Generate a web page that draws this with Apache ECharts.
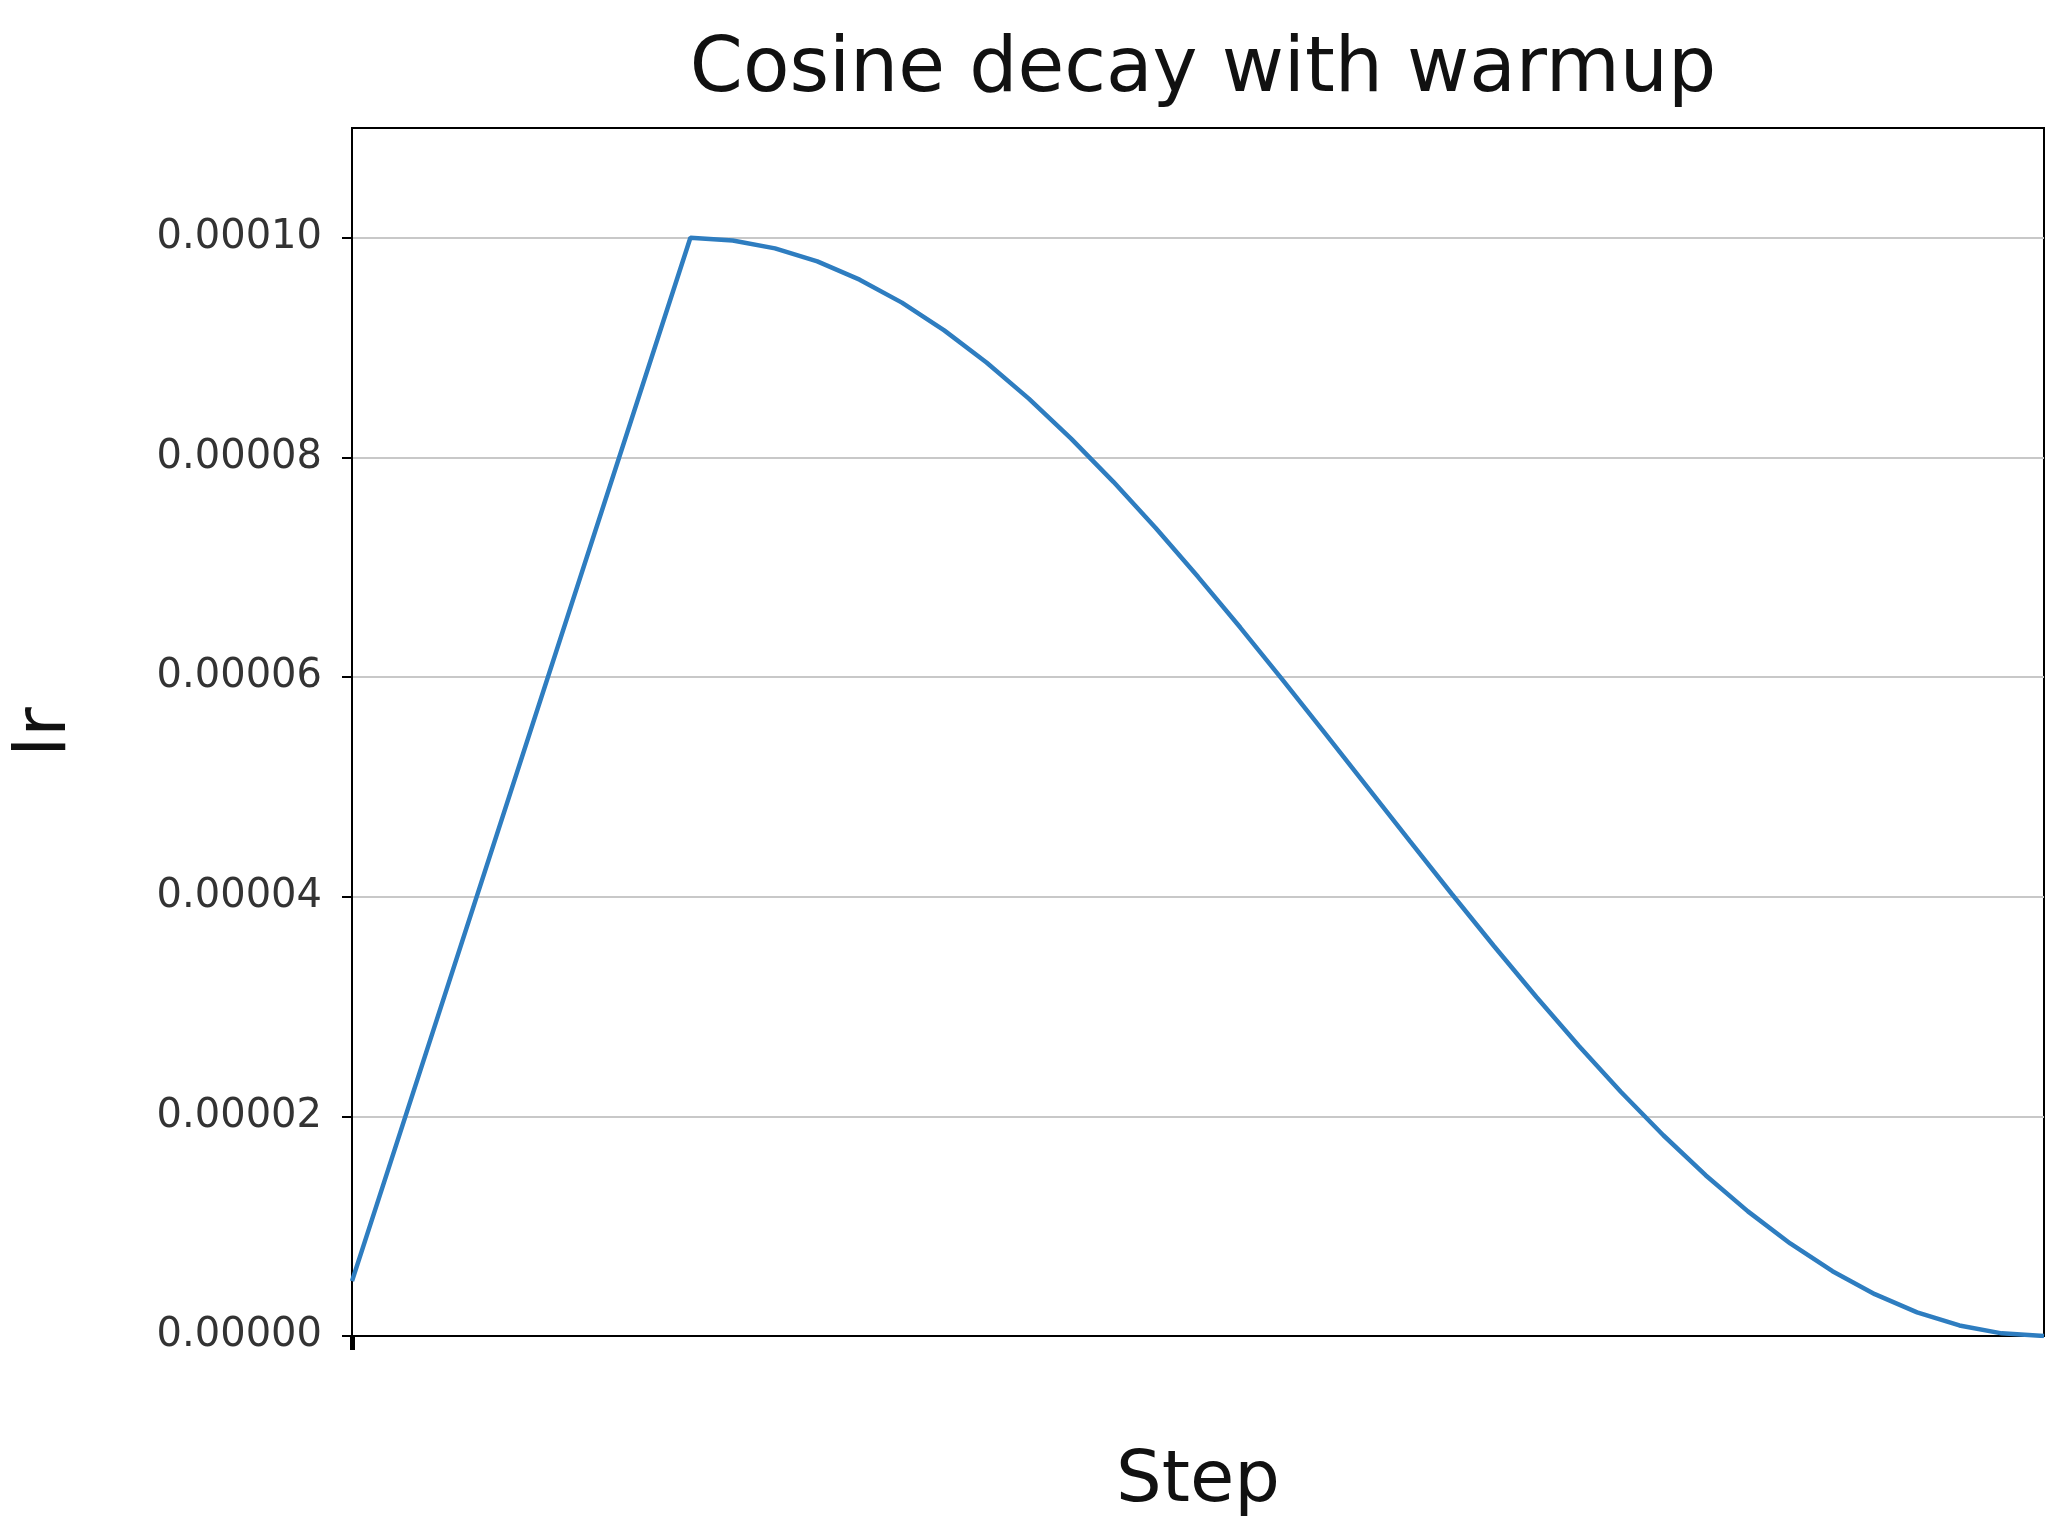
<!DOCTYPE html>
<html><head><meta charset="utf-8">
<script src="https://cdn.jsdelivr.net/npm/echarts@6/dist/echarts.min.js"></script>
<style>html,body{margin:0;background:#fff}#chart{width:2060px;height:1538px}</style>
</head><body><div id="chart"></div>
<script>
// steps and learning rate (lr in units of 1e-5)
var steps = [0, 20, 22.5, 25, 27.5, 30, 32.5, 35, 37.5, 40, 42.5, 45, 47.5, 50, 52.5, 55, 57.5, 60,
	62.5, 65, 67.5, 70, 72.5, 75, 77.5, 80, 82.5, 85, 87.5, 90, 92.5, 95, 97.5, 100];
var lrValues = [0.5, 10, 9.976, 9.904, 9.785, 9.619, 9.410, 9.157, 8.865, 8.536, 8.172, 7.778, 7.357, 6.913, 6.451, 5.975, 5.490, 5.000,
	4.510, 4.025, 3.549, 3.087, 2.643, 2.222, 1.828, 1.464, 1.135, 0.843, 0.590, 0.381, 0.215, 0.096, 0.024, 0];
var yTicks = [0, 0.00002, 0.00004, 0.00006, 0.00008, 0.0001];

var chart = echarts.init(document.getElementById('chart'));
var pts = steps.map(function(s, i) { return [s, lrValues[i] * 1e-5]; });
chart.setOption({
	animation: false,
	title: {
		text: 'Cosine decay with warmup', left: 1198, top: 28, textAlign: 'center',
		textStyle: { fontFamily: 'DejaVu Sans', fontWeight: 'normal', fontSize: 76, color: '#111' }
	},
	grid: { left: 352, right: 16, top: 128, bottom: 202, show: true, borderColor: '#000', borderWidth: 2 },
	xAxis: {
		type: 'value', min: 0, max: 100, interval: 100,
		name: 'Step', nameLocation: 'middle', nameGap: 110,
		nameTextStyle: { fontFamily: 'DejaVu Sans', fontSize: 72, color: '#111' },
		axisLine: { lineStyle: { color: '#000', width: 2 } },
		axisTick: { show: true, length: 14, customValues: [0], lineStyle: { color: '#000', width: 5 } },
		axisLabel: { show: false },
		splitLine: { show: false }
	},
	yAxis: {
		type: 'value', min: 0, max: 0.00011, interval: 0.00002,
		name: 'lr', nameLocation: 'middle', nameGap: 270, nameRotate: 90,
		nameTextStyle: { fontFamily: 'DejaVu Sans', fontSize: 72, color: '#111' },
		axisLine: { show: true, lineStyle: { color: '#000', width: 2 } },
		axisTick: { show: true, length: 10, customValues: yTicks, lineStyle: { color: '#000', width: 2 } },
		axisLabel: {
			fontFamily: 'DejaVu Sans', fontSize: 40, color: '#333', margin: 30,
			formatter: function(v) { return yTicks.some(function(t) { return Math.abs(t - v) < 1e-9; }) ? v.toFixed(5) : ''; }
		},
		splitLine: { lineStyle: { color: '#c8c8c8', width: 2 } }
	},
	series: [{
		type: 'line', data: pts, showSymbol: false, smooth: false,
		lineStyle: { color: '#2e7dc0', width: 4.5 }
	}]
});
</script></body></html>
